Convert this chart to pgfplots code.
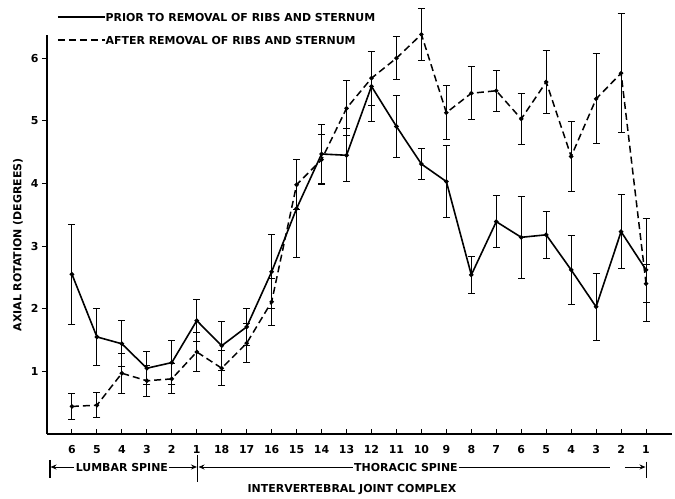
\documentclass[border=0pt]{standalone}
\usepackage{fontspec}
\setmainfont{DejaVu Sans}
\usepackage{pgfplots}
\pgfplotsset{compat=1.18}
\usepackage{pgfplotstable}
\usetikzlibrary{arrows.meta}

\pgfplotstableread{
x y e
0 2.55 0.80
1 1.55 0.46
2 1.44 0.37
3 1.05 0.26
4 1.14 0.35
5 1.81 0.34
6 1.41 0.39
7 1.71 0.30
8 2.59 0.59
9 3.60 0.78
10 4.47 0.47
11 4.45 0.42
12 5.55 0.56
13 4.91 0.50
14 4.31 0.24
15 4.03 0.58
16 2.54 0.29
17 3.39 0.41
18 3.14 0.65
19 3.18 0.38
20 2.62 0.55
21 2.03 0.54
22 3.23 0.59
23 2.62 0.82
}\prior

\pgfplotstableread{
x y e
0 0.44 0.21
1 0.46 0.20
2 0.97 0.32
3 0.85 0.25
4 0.88 0.24
5 1.31 0.31
6 1.05 0.28
7 1.45 0.31
8 2.11 0.37
9 3.98 0.40
10 4.38 0.40
11 5.20 0.44
12 5.68 0.43
13 6.00 0.34
14 6.38 0.42
15 5.13 0.43
16 5.44 0.42
17 5.48 0.33
18 5.03 0.41
19 5.62 0.51
20 4.43 0.56
21 5.35 0.72
22 5.76 0.95
23 2.40 0.30
}\after

\newcommand{\lf}{\fontsize{11}{13}\selectfont\bfseries}

\begin{document}
\begin{tikzpicture}
\useasboundingbox (-47bp,-65bp) rectangle (628bp,434bp);
\begin{axis}[
  at={(0,0)}, anchor=south west,
  scale only axis, width=625bp, height=399bp,
  xmin=-1, xmax=24.04, ymin=0, ymax=6.37,
  axis x line*=bottom, axis y line*=left,
  clip=false,
  xtick={0,...,23},
  xticklabels={6,5,4,3,2,1,18,17,16,15,14,13,12,11,10,9,8,7,6,5,4,3,2,1},
  ytick={1,2,3,4,5,6},
  major tick length=5bp,
  tick align=inside,
  y tick style={xshift=-5bp},
  tick style={black, line width=1pt},
  axis line style={line width=1.3pt},
  /pgf/number format/assume math mode=true,
  xticklabel style={font=\lf, yshift=-8bp},
  yticklabel style={font=\lf, xshift=-5bp},
  xlabel={INTERVERTEBRAL JOINT COMPLEX},
  ylabel={AXIAL ROTATION (DEGREES)},
  every axis x label/.style={at={(rel axis cs:0.488,0)}, yshift=-56bp, anchor=center, font=\lf},
  every axis y label/.style={at={(rel axis cs:0,0.474)}, xshift=-29bp, rotate=90, anchor=center, font=\lf},
  legend style={draw=none, fill=none, at={(0.016,1.055)}, anchor=north west,
    inner sep=0pt, outer sep=0pt, row sep=15bp, column sep=0pt,
    nodes={inner sep=0pt, text height=8bp, text depth=0bp, font=\lf}},
  legend cell align=left,
  legend image code/.code={\draw[#1] (0bp,0bp) -- (47bp,0bp);},
]
\addplot[black, line width=1.6pt, mark=*, mark size=1.4pt,
  error bars/.cd, y dir=both, y explicit,
  error mark options={rotate=90, mark size=3.5bp, line width=1pt},
  error bar style={line width=1pt}]
  table[x=x, y=y, y error=e]{\prior};
\addlegendentry{PRIOR TO REMOVAL OF RIBS AND STERNUM}
\addplot[black, line width=1.5pt, dash pattern=on 7bp off 4bp, mark=*, mark size=1.4pt, mark options={solid},
  error bars/.cd, y dir=both, y explicit,
  error mark options={solid, rotate=90, mark size=3.5bp, line width=1pt},
  error bar style={solid, line width=1pt}]
  table[x=x, y=y, y error=e]{\after};
\addlegendentry{AFTER REMOVAL OF RIBS AND STERNUM}

% region annotations below the axis
\draw[line width=1.1pt] (axis cs:-0.88,-0.415) -- (axis cs:-0.88,-0.70);
\draw[line width=1.1pt] (axis cs:5.03,-0.335) -- (axis cs:5.03,-0.77);
\draw[line width=1.1pt] (axis cs:23.0,-0.44) -- (axis cs:23.0,-0.70);
\draw[line width=1pt, {Stealth[length=6bp,width=5bp]}-{Stealth[length=6bp,width=5bp]}]
  (axis cs:-0.86,-0.527) -- (axis cs:5.01,-0.527);
\node[fill=white, inner xsep=1.5bp, inner ysep=1bp, font=\lf] at (axis cs:2.0,-0.527) {LUMBAR SPINE};
\draw[line width=1pt, {Stealth[length=6bp,width=5bp]}-] (axis cs:5.07,-0.527) -- (axis cs:21.55,-0.527);
\draw[line width=1pt, -{Stealth[length=6bp,width=5bp]}] (axis cs:22.15,-0.527) -- (axis cs:22.98,-0.527);
\node[fill=white, inner xsep=1.5bp, inner ysep=1bp, font=\lf] at (axis cs:13.38,-0.527) {THORACIC SPINE};
\end{axis}
\end{tikzpicture}
\end{document}
